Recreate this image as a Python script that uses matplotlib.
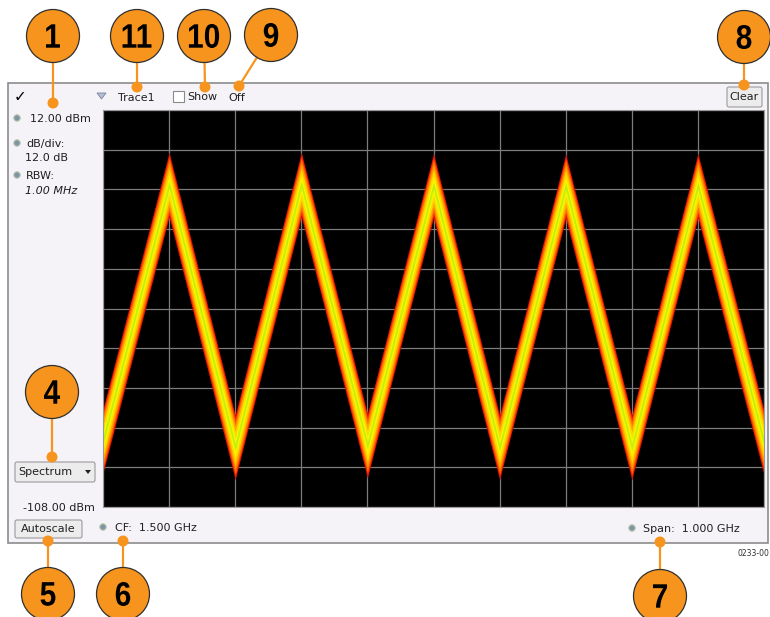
import matplotlib
matplotlib.use('Agg')
import numpy as np
from matplotlib import pyplot as plt
from matplotlib.patches import Rectangle, Circle, FancyBboxPatch, Polygon, PathPatch
from matplotlib.textpath import TextPath
from matplotlib.font_manager import FontProperties
from matplotlib.transforms import Affine2D

# trace vertices (GHz, dBm)
freq_ghz = [1.0, 1.1, 1.2, 1.3, 1.4, 1.5, 1.6, 1.7, 1.8, 1.9, 2.0]
level_dbm = [-88.0, -10.5, -90.0, -10.5, -89.5, -10.8, -90.0, -11.0, -90.0, -10.8, -88.5]

ref_level = 12.0      # dBm, top of screen
db_per_div = 12.0
n_div = 10
center_ghz = 1.5
span_ghz = 1.0

# callout numbers, circle centre and target dot, in screen pixels
callout_num = ['1', '11', '10', '9', '8', '4', '5', '6', '7']
callout_circle = [(53, 36), (137, 36), (204, 36), (271, 35), (744, 37),
                  (52, 392), (48, 594), (123, 594), (660, 596)]
callout_dot = [(53, 103), (137, 87), (205, 87), (239, 86), (744, 85),
               (52, 457), (48, 541), (123, 541), (660, 542)]

W, H = 770, 617
fig = plt.figure(figsize=(W / 100, H / 100), dpi=100)
fig.patch.set_facecolor('white')

# background layer in pixel coords
bg = fig.add_axes([0, 0, 1, 1])
bg.set_xlim(0, W)
bg.set_ylim(H, 0)
bg.axis('off')

bg.add_patch(Rectangle((8, 83), 760, 460, facecolor='#f5f3f7', edgecolor='#8c8c8c', lw=1.2))

txt = dict(fontsize=8, color='#202020', family='DejaVu Sans', va='center')
orange = '#f7941d'


def bullet(x, y):
    bg.add_patch(Circle((x, y), 3.2, facecolor='#7f93a6', edgecolor='#b8c8a8', lw=0.8))


def button(x, y, w, h):
    bg.add_patch(FancyBboxPatch((x, y), w, h, boxstyle='round,pad=0,rounding_size=2',
                                facecolor='#ececec', edgecolor='#9a9a9a', lw=0.8))


# top bar
bg.text(20, 97, '\u2713', fontsize=11, fontweight='bold', color='black', ha='center', va='center')
bg.add_patch(Polygon([(97, 93), (106, 93), (101.5, 99)], closed=True,
                     facecolor='#b4bcd8', edgecolor='#7c84a0', lw=0.6))
bg.text(118, 98, 'Trace1', **txt)
bg.add_patch(Rectangle((173, 91), 11, 11, facecolor='white', edgecolor='#8a8a8a', lw=0.8))
bg.text(187, 97, 'Show', **txt)
bg.text(228, 98, 'Off', **txt)
button(727, 87, 35, 20)
bg.text(744.5, 97, 'Clear', ha='center', **txt)

# left side readouts
bullet(17, 118)
bg.text(30, 119, '12.00 dBm', **txt)
bullet(17, 143)
bg.text(26, 144, 'dB/div:', **txt)
bg.text(25, 158, '12.0 dB', **txt)
bullet(17, 175)
bg.text(26, 176, 'RBW:', **txt)
bg.text(25, 191, '1.00 MHz', style='italic', **txt)

button(15, 462, 80, 20)
bg.text(18, 472, 'Spectrum', **txt)
bg.add_patch(Polygon([(85, 470), (91, 470), (88, 474)], closed=True, facecolor='#202020', edgecolor='none'))
bg.text(23, 508, '-108.00 dBm', **txt)
button(15, 520, 67, 18)
bg.text(48.5, 529, 'Autoscale', ha='center', **txt)

# bottom readouts
bullet(103, 527)
bg.text(115, 528, 'CF:  %.3f GHz' % center_ghz, **txt)
bullet(632, 528)
bg.text(643, 529, 'Span:  %.3f GHz' % span_ghz, **txt)
bg.text(769, 554, '0233-00', fontsize=5.5, color='#303030', ha='right', va='center')

# callouts, digits drawn as slightly narrowed text paths
num_font = FontProperties(family='Liberation Sans', weight='bold')
for num, (cx, cy), (dx, dy) in zip(callout_num, callout_circle, callout_dot):
    bg.plot([cx, dx], [cy, dy], color=orange, lw=1.6, solid_capstyle='round', zorder=2)
    bg.add_patch(Circle((dx, dy), 5.5, facecolor=orange, edgecolor='none', zorder=3))
    bg.add_patch(Circle((cx, cy), 26.5, facecolor=orange, edgecolor='#303030', lw=0.9, zorder=4))
    tp = TextPath((0, 0), num, size=34, prop=num_font)
    ext = tp.get_extents()
    tr = (Affine2D().translate(-(ext.x0 + ext.x1) / 2, -(ext.y0 + ext.y1) / 2)
          .scale(0.88, -1).translate(cx, cy))
    bg.add_patch(PathPatch(tr.transform_path(tp), facecolor='black', edgecolor='none', zorder=5))

# spectrum display
x0, x1, y0, y1 = 103, 764, 110, 507
ax = fig.add_axes([x0 / W, 1 - y1 / H, (x1 - x0) / W, (y1 - y0) / H])
ax.set_facecolor('black')
ax.set_axisbelow(True)
f_lo, f_hi = center_ghz - span_ghz / 2, center_ghz + span_ghz / 2
bottom = ref_level - db_per_div * n_div
ax.set_xlim(f_lo, f_hi)
ax.set_ylim(bottom, ref_level)
ax.set_xticks(np.linspace(f_lo, f_hi, n_div + 1))
ax.set_yticks(np.linspace(bottom, ref_level, n_div + 1))
ax.grid(True, color='#7c7c7c', lw=0.9)
ax.tick_params(length=0, labelbottom=False, labelleft=False)
for s in ax.spines.values():
    s.set_color('#9a9a9a')
    s.set_linewidth(0.8)

lvl = np.array(level_dbm)
layers = [(9.8, '#b80000'), (9.2, '#f02a00'), (8.0, '#ff6c00'), (6.5, '#ffa400'),
          (4.8, '#ffd800'), (2.8, '#f6f600'), (1.0, '#c0ee10')]
for h, c in layers:
    ax.fill_between(freq_ghz, lvl - h, lvl + h, color=c, lw=0, zorder=2)

fig.savefig('out.png', dpi=100)
